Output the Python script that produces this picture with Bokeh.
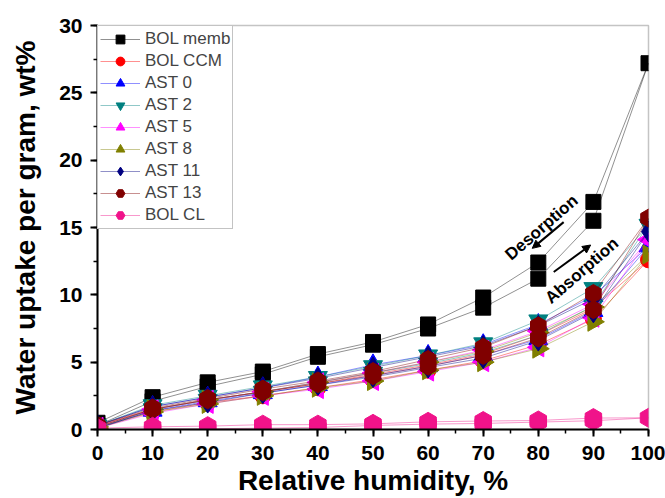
from math import pi
from bokeh.plotting import figure
from bokeh.models import (Range1d, Legend, LegendItem, Label, Arrow, NormalHead,
                          SingleIntervalTicker)
from bokeh.embed import file_html
from bokeh.resources import INLINE

# ---------------- data ----------------
RH_ABS = [0, 10, 20, 30, 40, 50, 60, 70, 80, 90, 100]   # absorption branch
RH_DES = [90, 80, 70, 60, 50, 40, 30, 20, 10, 0]         # desorption branch

BOL_MEMB_ABS = [0.3, 2.1, 3.2, 4.1, 5.4, 6.3, 7.5, 9.05, 11.2, 15.5, 27.2]
BOL_MEMB_DES = [16.9, 12.4, 9.8, 7.8, 6.5, 5.6, 4.3, 3.5, 2.4, 0.5]

BOL_CCM_ABS = [0.2, 1.3, 2.0, 2.5, 3.1, 3.7, 4.4, 5.1, 6.3, 8.2, 12.6]
BOL_CCM_DES = [9.0, 7.0, 5.6, 4.8, 4.1, 3.4, 2.8, 2.2, 1.5, 0.3]

AST0_ABS = [0.1, 1.4, 2.1, 2.7, 3.3, 4.0, 4.7, 5.5, 6.7, 8.8, 13.6]
AST0_DES = [9.9, 7.8, 6.3, 5.5, 4.8, 3.9, 3.1, 2.4, 1.7, 0.3]

AST2_ABS = [0.1, 1.5, 2.2, 2.8, 3.5, 4.2, 4.9, 5.7, 7.0, 9.2, 15.2]
AST2_DES = [10.5, 8.1, 6.4, 5.5, 4.7, 3.9, 3.2, 2.5, 1.8, 0.3]

AST5_ABS = [0.1, 1.2, 1.9, 2.5, 3.0, 3.6, 4.3, 5.0, 6.1, 8.3, 14.1]
AST5_DES = [9.3, 7.3, 5.9, 5.0, 4.2, 3.5, 2.8, 2.2, 1.5, 0.2]

AST8_ABS = [0.1, 1.3, 1.9, 2.5, 3.1, 3.6, 4.4, 5.0, 6.0, 8.0, 13.0]
AST8_DES = [9.1, 7.2, 5.8, 5.0, 4.2, 3.5, 2.8, 2.2, 1.5, 0.2]

AST11_ABS = [0.1, 1.4, 2.0, 2.7, 3.3, 3.9, 4.6, 5.3, 6.6, 8.7, 14.7]
AST11_DES = [9.7, 7.7, 6.2, 5.4, 4.6, 3.8, 3.1, 2.4, 1.7, 0.3]

AST13_ABS = [0.2, 1.5, 2.2, 2.8, 3.4, 4.0, 4.7, 5.5, 6.8, 8.9, 15.7]
AST13_DES = [10.1, 7.7, 6.1, 5.2, 4.3, 3.6, 3.0, 2.3, 1.6, 0.3]

BOL_CL_ABS = [0.0, 0.02, 0.05, 0.1, 0.15, 0.3, 0.4, 0.45, 0.55, 0.65, 0.87]
BOL_CL_DES = [0.85, 0.67, 0.63, 0.57, 0.42, 0.36, 0.36, 0.25, 0.2, 0.1]

LABELS = ["BOL memb", "BOL CCM", "AST 0", "AST 2", "AST 5", "AST 8",
          "AST 11", "AST 13", "BOL CL"]
ABS = [BOL_MEMB_ABS, BOL_CCM_ABS, AST0_ABS, AST2_ABS, AST5_ABS, AST8_ABS,
       AST11_ABS, AST13_ABS, BOL_CL_ABS]
DES = [BOL_MEMB_DES, BOL_CCM_DES, AST0_DES, AST2_DES, AST5_DES, AST8_DES,
       AST11_DES, AST13_DES, BOL_CL_DES]

X_TICK_INTERVAL = 10
Y_TICK_INTERVAL = 5

# ---------------- styles ----------------
COLORS = ["#000000", "#FF0000", "#0000FF", "#008080", "#FF00FF", "#808000",
          "#000080", "#800000", "#F0138A"]
MARKERS = ["square", "circle", "triangle", "inverted_triangle", "triangle",
           "triangle", "diamond", "hex", "hex"]
ANGLES = [0, 0, 0, 0, pi / 2, -pi / 2, 0, pi / 2, pi / 2]
SIZES = [15, 16, 19, 19, 19, 19, 21, 18, 19]

FONT = "Liberation Sans"

p = figure(width=665, height=498, x_range=Range1d(0, 100), y_range=Range1d(0, 30),
           output_backend="svg", toolbar_location=None,
           min_border_left=97, min_border_right=17, min_border_top=25,
           min_border_bottom=69)
p.background_fill_color = "white"
p.border_fill_color = "white"
p.xgrid.visible = False
p.ygrid.visible = False
p.outline_line_color = "#c4c4c4"
p.outline_line_width = 1.5

items = []
for lab, a, d, c, m, ang, s in zip(LABELS, ABS, DES, COLORS, MARKERS, ANGLES, SIZES):
    xs = RH_ABS + RH_DES
    ys = a + d
    lr = p.line(xs, ys, line_color=c, line_width=0.8, line_alpha=0.55)
    sr = p.scatter(xs, ys, marker=m, size=s, angle=ang, fill_color=c,
                   line_color=c, line_width=1)
    items.append(LegendItem(label=lab, renderers=[lr, sr]))

legend = Legend(items=items, location="top_left", margin=0, padding=2, spacing=0,
                glyph_width=40, glyph_height=22, label_height=22, label_standoff=5,
                label_text_font=FONT, label_text_font_size="17px",
                border_line_color="#888888", border_line_width=1,
                background_fill_color="white", background_fill_alpha=1)
p.add_layout(legend)

# axes
p.xaxis.ticker = SingleIntervalTicker(interval=X_TICK_INTERVAL, num_minor_ticks=2)
p.yaxis.ticker = SingleIntervalTicker(interval=Y_TICK_INTERVAL, num_minor_ticks=2)
for ax in (p.xaxis[0], p.yaxis[0]):
    ax.axis_line_width = 2
    ax.axis_line_color = "black"
    ax.major_tick_line_width = 2
    ax.minor_tick_line_width = 1.5
    ax.major_tick_in = 0
    ax.major_tick_out = 7
    ax.minor_tick_in = 0
    ax.minor_tick_out = 4
    ax.major_label_text_font = FONT
    ax.major_label_text_font_style = "bold"
    ax.major_label_text_font_size = "21px"
    ax.major_label_text_color = "black"
    ax.axis_label_text_font = FONT
    ax.axis_label_text_font_style = "bold"
    ax.axis_label_text_font_size = "28px"
    ax.axis_label_text_color = "black"
p.xaxis.major_label_standoff = 9
p.yaxis.major_label_standoff = 8

p.yaxis.axis_label = "Water uptake per gram, wt%"
p.yaxis.axis_label_standoff = 15
p.xaxis.axis_label = "Relative humidity, %"
p.xaxis.axis_label_standoff = 2

# annotations
p.add_layout(Label(x=80.6, y=15.0, text="Desorption", angle=41, angle_units="deg",
                   text_font=FONT, text_font_style="bold", text_font_size="17px",
                   text_align="center", text_baseline="middle", text_color="black"))
p.add_layout(Label(x=87.9, y=11.8, text="Absorption", angle=41, angle_units="deg",
                   text_font=FONT, text_font_style="bold", text_font_size="17px",
                   text_align="center", text_baseline="middle", text_color="black"))
p.add_layout(Arrow(end=NormalHead(size=8, fill_color="black", line_color="black"),
                   x_start=84.6, y_start=15.4, x_end=78.9, y_end=13.45,
                   line_width=2, line_color="black"))
p.add_layout(Arrow(end=NormalHead(size=8, fill_color="black", line_color="black"),
                   x_start=82.8, y_start=11.7, x_end=89.5, y_end=13.7,
                   line_width=2, line_color="black"))

open("out.html", "w").write(file_html(p, INLINE))
